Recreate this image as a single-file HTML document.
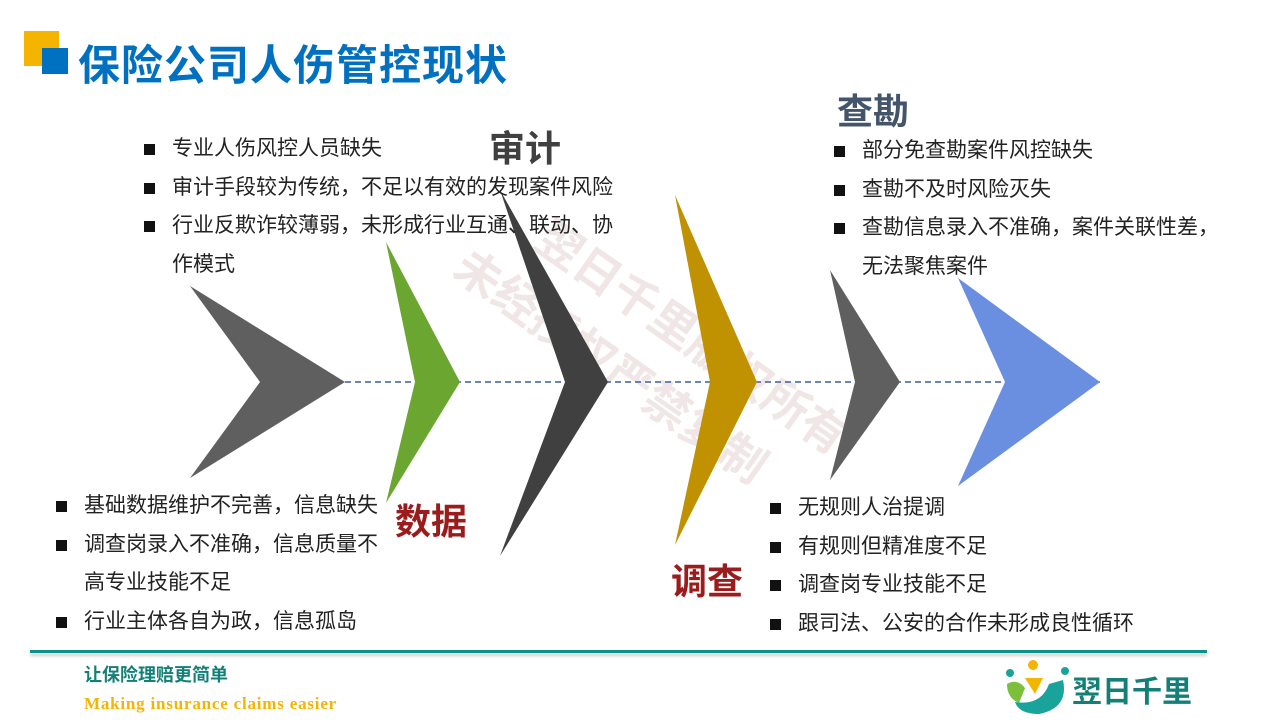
<!DOCTYPE html>
<html><head><meta charset="utf-8"><style>
body{margin:0;width:1280px;height:720px;position:relative;background:#fff;overflow:hidden;font-family:"Liberation Sans","Noto Sans CJK SC",sans-serif;}
.t{position:absolute;white-space:nowrap;}
ul{position:absolute;margin:0;padding:0;list-style:none;font-size:21px;color:#222;line-height:38.5px;}
li{position:relative;padding-left:28px;}
li:before{content:"";position:absolute;left:0;top:14px;width:11px;height:11px;background:#111;}
</style></head><body>
<div style="position:absolute;left:24px;top:31px;width:35px;height:35px;background:#f5b400"></div>
<div style="position:absolute;left:42px;top:48px;width:26px;height:26px;background:#0070c0"></div>
<div class="t" style="left:78px;top:32px;font-size:42px;font-weight:bold;color:#0070c0;letter-spacing:1px">保险公司人伤管控现状</div>

<svg width="1280" height="720" style="position:absolute;left:0;top:0">
<g transform="rotate(35 640 370)" fill="#f0e6e6" font-size="46" font-weight="bold" font-family="Noto Sans CJK SC,sans-serif">
<text x="480" y="330">翌日千里版权所有</text>
<text x="430" y="400">未经授权严禁复制</text>
</g>
<line x1="345" y1="382" x2="1100" y2="382" stroke="#3f5f9f" stroke-width="1.5" stroke-dasharray="6,4"/>
<polygon points="190,286 345,382 190,478 260,382" fill="#5f5f5f"/>
<polygon points="386,242 460,382 386,503 415,382" fill="#6aa630"/>
<polygon points="500,190 608,382 500,556 565,382" fill="#404040"/>
<polygon points="675,195 757,382 675,545 710,382" fill="#c09100"/>
<polygon points="830,270 900,382 830,480 855,382" fill="#5f5f5f"/>
<polygon points="958,278 1100,382 958,486 1005,382" fill="#6a8fe0"/>
</svg>

<div class="t" style="left:489px;top:120px;font-size:36px;font-weight:bold;color:#404040">审计</div>
<div class="t" style="left:837px;top:83px;font-size:36px;font-weight:bold;color:#44546a">查勘</div>
<div class="t" style="left:395px;top:493px;font-size:36px;font-weight:bold;color:#9b1c1c">数据</div>
<div class="t" style="left:671px;top:553px;font-size:36px;font-weight:bold;color:#9b1c1c">调查</div>

<ul style="left:144px;top:130px">
<li>专业人伤风控人员缺失</li>
<li>审计手段较为传统，不足以有效的发现案件风险</li>
<li>行业反欺诈较薄弱，未形成行业互通、联动、协<br>作模式</li>
</ul>
<ul style="left:834px;top:132px">
<li>部分免查勘案件风控缺失</li>
<li>查勘不及时风险灭失</li>
<li>查勘信息录入不准确，案件关联性差，<br>无法聚焦案件</li>
</ul>
<ul style="left:56px;top:487px">
<li>基础数据维护不完善，信息缺失</li>
<li>调查岗录入不准确，信息质量不<br>高专业技能不足</li>
<li>行业主体各自为政，信息孤岛</li>
</ul>
<ul style="left:770px;top:489px">
<li>无规则人治提调</li>
<li>有规则但精准度不足</li>
<li>调查岗专业技能不足</li>
<li>跟司法、公安的合作未形成良性循环</li>
</ul>

<div style="position:absolute;left:30px;top:650px;width:1177px;height:3px;background:#0f8f88;box-shadow:0 3px 3px #ccc"></div>
<div class="t" style="left:84px;top:661px;font-size:18px;font-weight:bold;color:#138078">让保险理赔更简单</div>
<div class="t" style="left:84px;top:694px;font-size:17px;font-weight:bold;color:#f5b400;font-family:'Liberation Serif',serif;letter-spacing:0.8px">Making insurance claims easier</div>
<svg width="70" height="60" style="position:absolute;left:1005px;top:658px">
<circle cx="5" cy="15" r="4" fill="#1aa39a"/><circle cx="28" cy="7" r="5" fill="#f5b400"/><circle cx="60" cy="13" r="4" fill="#1aa39a"/>
<path d="M20 20 L38 20 L30 36 Z" fill="#f5b400"/>
<path d="M2 26 Q12 20 20 30 L14 45 Q2 40 2 26Z" fill="#7bbf3a"/>
<path d="M58 22 Q64 50 34 56 Q14 56 10 44 Q36 48 44 26 Z" fill="#1aa39a"/>
</svg>
<div class="t" style="left:1072px;top:667px;font-size:30px;font-weight:bold;color:#138078">翌日千里</div>
</body></html>
